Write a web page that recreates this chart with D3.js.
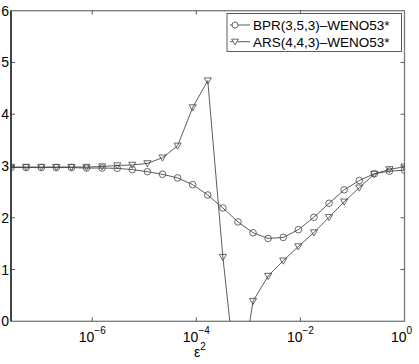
<!DOCTYPE html>
<html>
<head>
<meta charset="utf-8">
<script src="https://cdn.jsdelivr.net/npm/d3@7"></script>
<style>
  body { margin: 0; background: #fff; }
  svg { display: block; font-family: "Liberation Sans", Arial, sans-serif; }
</style>
</head>
<body>
<div class="chart"></div>
<script>
var width = 419;
var height = 364;

// eps^2 sample points (x)
var eps2 = [2.75e-8, 5.37e-8, 1.05e-7, 2.04e-7, 3.98e-7, 7.76e-7, 1.55e-6, 3.02e-6, 5.89e-6,
            1.15e-5, 2.24e-5, 4.37e-5, 8.51e-5, 1.66e-4, 3.24e-4, 6.31e-4, 1.23e-3, 2.40e-3,
            4.68e-3, 9.12e-3, 1.82e-2, 3.55e-2, 6.92e-2, 0.135, 0.263, 0.513, 1];

// BPR(3,5,3)-WENO53*
var bpr = [2.97, 2.97, 2.97, 2.97, 2.97, 2.96, 2.96, 2.955, 2.93,
           2.89, 2.84, 2.77, 2.64, 2.44, 2.19, 1.92, 1.71, 1.60,
           1.62, 1.77, 2.01, 2.28, 2.54, 2.72, 2.85, 2.90, 2.92];

// ARS(4,4,3)-WENO53*
var ars = [2.98, 2.98, 2.98, 2.98, 2.98, 2.98, 2.99, 3.01, 3.02,
           3.05, 3.16, 3.39, 4.13, 4.65, 1.24, -1.45, 0.39, 0.875,
           1.17, 1.445, 1.715, 2.01, 2.31, 2.58, 2.845, 2.935, 2.985];

var seriesNames = ['BPR(3,5,3)\u2013WENO53*', 'ARS(4,4,3)\u2013WENO53*'];
var xTicks = [1e-6, 1e-4, 1e-2, 1];
var xTickExp = ['\u22126', '\u22124', '\u22122', '0'];
var yTicks = [0, 1, 2, 3, 4, 5, 6];

// plot area (note: "top" is a reserved window prop, so use pl/pr/pt/pb)
var pl = 11, pr = 404.5, pt = 10.7, pb = 321.3;

var x = d3.scaleLog().domain([eps2[0], 1]).range([pl, pr]);
var y = d3.scaleLinear().domain([0, 6]).range([pb, pt]);

var svg = d3.select('.chart').append('svg')
    .attr('width', width)
    .attr('height', height);

svg.append('defs').append('clipPath').attr('id', 'plotclip')
    .append('rect')
    .attr('x', pl).attr('y', pt)
    .attr('width', pr - pl).attr('height', pb - pt);

// box
svg.append('rect')
    .attr('x', pl).attr('y', pt)
    .attr('width', pr - pl).attr('height', pb - pt)
    .attr('fill', 'none')
    .attr('stroke', '#7a7a7a')
    .attr('stroke-width', 1.3);

svg.append('line')
    .attr('x1', pl).attr('x2', pl)
    .attr('y1', pt).attr('y2', pb)
    .attr('stroke', '#000')
    .attr('stroke-width', 1.2);

// y ticks (inward, both sides)
yTicks.forEach(function (t) {
    if (t > 0 && t < 6) {
        svg.append('line')
            .attr('x1', pl).attr('x2', pl + 4)
            .attr('y1', y(t)).attr('y2', y(t))
            .attr('stroke', '#333').attr('stroke-width', 0.8);
        svg.append('line')
            .attr('x1', pr).attr('x2', pr - 4)
            .attr('y1', y(t)).attr('y2', y(t))
            .attr('stroke', '#333').attr('stroke-width', 0.8);
    }
    svg.append('text')
        .attr('x', pl - 2)
        .attr('y', y(t) + 5)
        .attr('text-anchor', 'end')
        .attr('font-size', 14)
        .attr('fill', '#000')
        .text(t);
});

// x ticks
xTicks.forEach(function (t, i) {
    if (t < 1) {
        svg.append('line')
            .attr('x1', x(t)).attr('x2', x(t))
            .attr('y1', pb).attr('y2', pb - 4)
            .attr('stroke', '#333').attr('stroke-width', 0.8);
        svg.append('line')
            .attr('x1', x(t)).attr('x2', x(t))
            .attr('y1', pt).attr('y2', pt + 4)
            .attr('stroke', '#333').attr('stroke-width', 0.8);
    }
    var lbl = svg.append('text')
        .attr('x', t < 1 ? x(t) : x(t) - 3)
        .attr('y', 341.5)
        .attr('text-anchor', 'middle')
        .attr('font-size', 14)
        .attr('fill', '#000');
    lbl.append('tspan').text('10');
    lbl.append('tspan')
        .attr('dy', -8)
        .attr('font-size', 10)
        .text(xTickExp[i]);
});

// x axis title
var xt = svg.append('text')
    .attr('x', 194)
    .attr('y', 357)
    .attr('font-size', 14)
    .attr('fill', '#000');
xt.append('tspan').text('\u03b5');
xt.append('tspan').attr('dy', -7).attr('font-size', 10).text('2');

var line = d3.line()
    .x(function (d) { return x(d[0]); })
    .y(function (d) { return y(d[1]); });

var plot = svg.append('g').attr('clip-path', 'url(#plotclip)');

var bprData = eps2.map(function (e, i) { return [e, bpr[i]]; });
var arsData = eps2.map(function (e, i) { return [e, ars[i]]; });

function triPath(cx, cy, r) {
    return 'M' + (cx - r) + ',' + (cy - r * 0.75) +
           'L' + (cx + r) + ',' + (cy - r * 0.75) +
           'L' + cx + ',' + (cy + r * 0.95) + 'Z';
}

// lines
[bprData, arsData].forEach(function (data) {
    plot.append('path')
        .datum(data)
        .attr('d', line)
        .attr('fill', 'none')
        .attr('stroke', '#333')
        .attr('stroke-width', 0.8);
});

// markers
plot.selectAll('circle.bpr')
    .data(bprData)
    .enter()
    .append('circle')
        .attr('class', 'bpr')
        .attr('cx', function (d) { return x(d[0]); })
        .attr('cy', function (d) { return y(d[1]); })
        .attr('r', 3.3)
        .attr('fill', 'none')
        .attr('stroke', '#444')
        .attr('stroke-width', 0.8);

plot.selectAll('path.ars')
    .data(arsData)
    .enter()
    .append('path')
        .attr('class', 'ars')
        .attr('d', function (d) { return triPath(x(d[0]), y(d[1]), 3.6); })
        .attr('fill', 'none')
        .attr('stroke', '#444')
        .attr('stroke-width', 0.8);

// legend
var lg = svg.append('g');
lg.append('rect')
    .attr('x', 227).attr('y', 13.5)
    .attr('width', 174.5).attr('height', 38)
    .attr('fill', '#fff')
    .attr('stroke', '#333')
    .attr('stroke-width', 0.8);

seriesNames.forEach(function (name, i) {
    var cy = 25 + i * 16.7;
    lg.append('line')
        .attr('x1', 230).attr('x2', 250)
        .attr('y1', cy).attr('y2', cy)
        .attr('stroke', '#333').attr('stroke-width', 0.8);
    if (i === 0) {
        lg.append('circle')
            .attr('cx', 235).attr('cy', cy).attr('r', 3)
            .attr('fill', '#fff').attr('stroke', '#444').attr('stroke-width', 0.8);
    } else {
        lg.append('path')
            .attr('d', triPath(235, cy, 3.4))
            .attr('fill', '#fff').attr('stroke', '#444').attr('stroke-width', 0.8);
    }
    lg.append('text')
        .attr('x', 253)
        .attr('y', cy + 5)
        .attr('font-size', 13.5)
        .attr('fill', '#000')
        .text(name);
});
</script>
</body>
</html>
